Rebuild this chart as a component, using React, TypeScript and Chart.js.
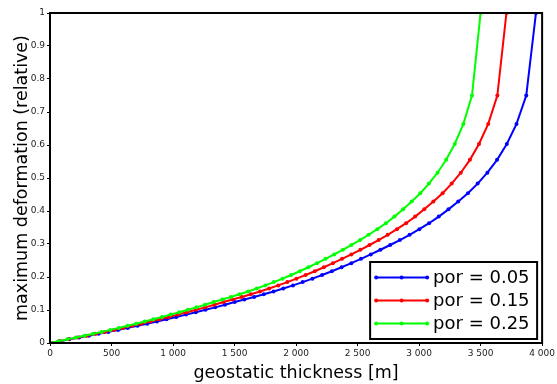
import React, { useEffect, useRef } from "react";
import { Chart, registerables } from "chart.js";

Chart.register(...registerables);

// relative maximum deformation at each sampled thickness (same marker heights for all three series)
const deformation = [
  0, 0.0055, 0.011, 0.0166, 0.0222, 0.0279, 0.0337, 0.0397, 0.0458, 0.052,
  0.0584, 0.065, 0.0718, 0.079, 0.086, 0.093, 0.1005, 0.108, 0.116, 0.124,
  0.132, 0.1395, 0.1475, 0.156, 0.165, 0.1745, 0.1845, 0.195, 0.206, 0.2175,
  0.2295, 0.242, 0.255, 0.2685, 0.2825, 0.297, 0.312, 0.328, 0.345, 0.363,
  0.383, 0.405, 0.429, 0.454, 0.483, 0.516, 0.555, 0.603, 0.664, 0.75,
  1.0,
];

// geostatic thickness [m] for por = 0.05
const thicknessBlue = [
  0, 79, 158, 237, 316, 395, 474, 553, 632, 711,
  790, 869, 948, 1027, 1106, 1185, 1264, 1343, 1422, 1501,
  1580, 1659, 1738, 1817, 1896, 1975, 2054, 2133, 2212, 2291,
  2370, 2449, 2528, 2607, 2686, 2765, 2844, 2923, 3002, 3081,
  3160, 3239, 3318, 3397, 3476, 3555, 3634, 3713, 3792, 3871,
  3950,
];

// geostatic thickness [m] for por = 0.15
const thicknessRed = [
  0, 74, 148, 223, 297, 371, 445, 519, 594, 668,
  742, 816, 890, 965, 1039, 1113, 1187, 1261, 1336, 1410,
  1484, 1558, 1632, 1707, 1781, 1855, 1929, 2003, 2078, 2152,
  2226, 2300, 2374, 2449, 2523, 2597, 2671, 2745, 2820, 2894,
  2968, 3042, 3116, 3191, 3265, 3339, 3413, 3487, 3562, 3636,
  3710,
];

// geostatic thickness [m] for por = 0.25
const thicknessGreen = [
  0, 70, 140, 210, 280, 350, 420, 490, 560, 630,
  700, 770, 840, 910, 980, 1050, 1120, 1190, 1260, 1330,
  1400, 1470, 1540, 1610, 1680, 1750, 1820, 1890, 1960, 2030,
  2100, 2170, 2240, 2310, 2380, 2450, 2520, 2590, 2660, 2730,
  2800, 2870, 2940, 3010, 3080, 3150, 3220, 3290, 3360, 3430,
  3500,
];

const seriesLabels = ["por = 0.05", "por = 0.15", "por = 0.25"];
const seriesColors = ["#0000ff", "#ff0000", "#00ff00"];

const xTickLabels = ["0", "500", "1 000", "1 500", "2 000", "2 500", "3 000", "3 500", "4 000"];
const yTickLabels = ["0", "0.1", "0.2", "0.3", "0.4", "0.5", "0.6", "0.7", "0.8", "0.9", "1"];

const xTitle = "geostatic thickness [m]";
const yTitle = "maximum deformation (relative)";

const FONT = "'DejaVu Sans', 'Liberation Sans', sans-serif";

export default function App() {
  const ref = useRef<HTMLCanvasElement>(null);

  useEffect(() => {
    if (!ref.current) return;
    const toPoints = (xs: number[]) => xs.map((x, i) => ({ x, y: deformation[i] }));
    const xsList = [thicknessBlue, thicknessRed, thicknessGreen];

    const framePlugin = {
      id: "frame",
      afterDatasetsDraw(chart: any) {
        const { ctx, chartArea: a } = chart;
        ctx.save();
        ctx.strokeStyle = "#000";
        ctx.lineWidth = 2;
        ctx.strokeRect(a.left, a.top, a.right - a.left, a.bottom - a.top);
        ctx.restore();
      },
    };

    const legendPlugin = {
      id: "boxLegend",
      afterDraw(chart: any) {
        const { ctx, chartArea: a } = chart;
        const w = 167;
        const h = 77;
        const right = a.right - 5;
        const bottom = a.bottom - 4;
        const left = right - w;
        const top = bottom - h;
        ctx.save();
        ctx.fillStyle = "#fff";
        ctx.fillRect(left, top, w, h);
        ctx.strokeStyle = "#000";
        ctx.lineWidth = 2;
        ctx.strokeRect(left, top, w, h);
        chart.data.datasets.forEach((ds: any, i: number) => {
          const y = top + 15.5 + i * 23;
          const x0 = left + 6;
          const x1 = left + 57;
          ctx.strokeStyle = ds.borderColor;
          ctx.lineWidth = 2;
          ctx.beginPath();
          ctx.moveTo(x0, y);
          ctx.lineTo(x1, y);
          ctx.stroke();
          ctx.fillStyle = ds.borderColor;
          [x0, (x0 + x1) / 2, x1].forEach((px) => {
            ctx.beginPath();
            ctx.arc(px, y, 2, 0, Math.PI * 2);
            ctx.fill();
          });
          ctx.fillStyle = "#000";
          ctx.font = `18px ${FONT}`;
          ctx.textBaseline = "middle";
          ctx.textAlign = "left";
          ctx.fillText(ds.label, left + 63, y + 1);
        });
        ctx.restore();
      },
    };

    const chart = new Chart(ref.current, {
      type: "line",
      data: {
        datasets: xsList.map((xs, i) => ({
          label: seriesLabels[i],
          data: toPoints(xs),
          borderColor: seriesColors[i],
          backgroundColor: seriesColors[i],
          pointBackgroundColor: seriesColors[i],
          pointBorderWidth: 0,
          pointRadius: 2,
          borderWidth: 2,
          tension: 0,
          fill: false,
          order: 2 - i,
        })),
      },
      options: {
        animation: false,
        responsive: false,
        devicePixelRatio: 1,
        layout: { padding: { top: 13, right: 14, left: 0, bottom: 0 } },
        plugins: {
          legend: { display: false },
          tooltip: { enabled: false },
        },
        scales: {
          x: {
            type: "linear",
            min: 0,
            max: 4000,
            afterFit: (s: any) => {
              s.height = 41;
            },
            grid: { drawOnChartArea: false, drawTicks: true, tickLength: 3, color: "#000" },
            border: { display: false },
            ticks: {
              stepSize: 500,
              autoSkip: false,
              maxRotation: 0,
              padding: 2,
              color: "#222",
              font: { family: FONT, size: 9 },
              callback: (_v: any, i: number) => xTickLabels[i],
            },
            title: {
              display: true,
              text: xTitle,
              color: "#000",
              font: { family: FONT, size: 17.5 },
              padding: { top: 0, bottom: 0 },
            },
          },
          y: {
            type: "linear",
            min: 0,
            max: 1,
            afterFit: (s: any) => {
              s.width = 50;
            },
            grid: { drawOnChartArea: false, drawTicks: true, tickLength: 3, color: "#000" },
            border: { display: false },
            ticks: {
              stepSize: 0.1,
              autoSkip: false,
              padding: 2,
              color: "#222",
              font: { family: FONT, size: 9 },
              callback: (_v: any, i: number) => yTickLabels[i],
            },
            title: {
              display: true,
              text: yTitle,
              color: "#000",
              font: { family: FONT, size: 17.5 },
              padding: { top: 12, bottom: 0 },
            },
          },
        },
      },
      plugins: [framePlugin, legendPlugin],
    } as any);

    return () => chart.destroy();
  }, []);

  return (
    <div style={{ position: "fixed", left: 0, top: 0, width: 557, height: 384, background: "#fff" }}>
      <canvas ref={ref} width={557} height={384} />
    </div>
  );
}
